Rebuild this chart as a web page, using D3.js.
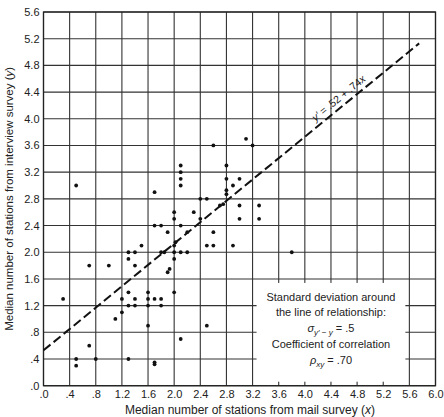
<!DOCTYPE html>
<html lang="en">
<head>
<meta charset="UTF-8">
<title>Mail survey vs interview survey</title>
<script src="https://cdn.jsdelivr.net/npm/d3@7"></script>
<style>
    body { margin: 0; background: #ffffff; }
    svg { display: block; font-family: "Liberation Sans", Arial, sans-serif; }
</style>
</head>
<body>
<div id="chart"></div>
<script>

    const xTicks = [0, 0.4, 0.8, 1.2, 1.6, 2.0, 2.4, 2.8, 3.2, 3.6, 4.0, 4.4, 4.8, 5.2, 5.6, 6.0];
    const xTickLabels = [".0", ".4", ".8", "1.2", "1.6", "2.0", "2.4", "2.8", "3.2", "3.6", "4.0", "4.4", "4.8", "5.2", "5.6", "6.0"];
    const yTicks = [0, 0.4, 0.8, 1.2, 1.6, 2.0, 2.4, 2.8, 3.2, 3.6, 4.0, 4.4, 4.8, 5.2, 5.6];
    const yTickLabels = [".0", ".4", ".8", "1.2", "1.6", "2.0", "2.4", "2.8", "3.2", "3.6", "4.0", "4.4", "4.8", "5.2", "5.6"];

    // median stations, mail survey (x) and interview survey (y)
    const mailSurvey = [
        0.3, 0.5, 0.7, 1.0, 0.7, 0.5, 0.5, 0.8, 1.3, 1.1, 1.2, 1.2, 1.3, 1.4, 1.3, 1.4,
        1.3, 1.3, 1.4, 1.4, 1.5,
        1.6, 1.6, 1.7, 1.8, 1.6, 1.8, 1.6, 1.7, 1.7, 2.1, 2.5, 2.0, 1.9, 1.93, 2.0,
        1.8, 1.85, 2.0, 2.1, 2.2, 2.0, 2.02, 1.9, 2.2, 2.6, 2.5, 2.6, 2.9, 3.8,
        1.7, 1.8, 2.1, 2.0, 2.0, 2.3, 2.4, 2.4, 2.5, 1.7, 2.1, 2.1, 2.1, 2.1, 2.6,
        2.7, 2.75, 2.8, 2.8, 2.9, 2.8, 3.0, 2.8, 3.0, 3.3, 3.0, 3.3, 3.1, 3.2
    ];
    const interviewSurvey = [
        1.3, 3.0, 1.8, 1.8, 0.6, 0.4, 0.3, 0.4, 0.4, 1.0, 1.1, 1.3, 1.2, 1.2, 1.4, 1.3,
        1.9, 2.0, 2.0, 1.8, 2.1,
        1.4, 1.3, 1.3, 1.3, 1.2, 1.2, 0.9, 0.32, 0.35, 0.7, 0.9, 1.4, 1.7, 1.75, 1.9,
        2.0, 2.0, 2.0, 2.0, 2.0, 2.1, 2.15, 2.3, 2.3, 2.3, 2.1, 2.1, 2.1, 2.0,
        2.4, 2.4, 2.4, 2.5, 2.6, 2.6, 2.5, 2.8, 2.8, 2.9, 3.0, 3.1, 3.2, 3.3, 3.6,
        2.7, 2.72, 2.87, 2.93, 3.0, 3.1, 3.1, 3.3, 2.7, 2.7, 2.5, 2.5, 3.7, 3.6
    ];

    // dashed line of relationship, as drawn
    const fitX = [0, 5.75];
    const fitY = [0.53, 5.13];

    const W = 444, H = 417;
    const svg = d3.select("#chart")
        .append("svg")
        .attr("width", W)
        .attr("height", H);

    const x = d3.scaleLinear().domain([0, 6]).range([43.5, 435.5]);
    const y = d3.scaleLinear().domain([0, 5.6]).range([385.7, 12]);

    const ink = "#222";

    // grid
    svg.append("g")
        .selectAll("line.v")
        .data(xTicks)
        .join("line")
        .attr("x1", d => x(d)).attr("x2", d => x(d))
        .attr("y1", y(0)).attr("y2", y(5.6))
        .attr("stroke", "#333").attr("stroke-width", 1.1);
    svg.append("g")
        .selectAll("line.h")
        .data(yTicks)
        .join("line")
        .attr("x1", x(0)).attr("x2", x(6))
        .attr("y1", d => y(d)).attr("y2", d => y(d))
        .attr("stroke", "#333").attr("stroke-width", 1.1);

    // frame
    svg.append("rect")
        .attr("x", x(0)).attr("y", y(5.6))
        .attr("width", x(6) - x(0)).attr("height", y(0) - y(5.6))
        .attr("fill", "none").attr("stroke", ink).attr("stroke-width", 1.3);

    // axes labels
    const xAxis = d3.axisBottom(x).tickValues(xTicks).tickSize(0).tickPadding(5)
        .tickFormat((d, i) => xTickLabels[i]);
    svg.append("g")
        .attr("transform", `translate(0,${y(0)})`)
        .call(xAxis)
        .call(g => g.select(".domain").remove())
        .call(g => g.selectAll("text").attr("fill", ink).style("font-size", "11px")
            .style("font-family", "Liberation Sans, Arial, sans-serif"));

    const yAxis = d3.axisLeft(y).tickValues(yTicks).tickSize(0).tickPadding(4)
        .tickFormat((d, i) => yTickLabels[i]);
    svg.append("g")
        .attr("transform", `translate(${x(0)},0)`)
        .call(yAxis)
        .call(g => g.select(".domain").remove())
        .call(g => g.selectAll("text").attr("fill", ink).style("font-size", "11px")
            .style("font-family", "Liberation Sans, Arial, sans-serif"));

    // annotation box
    const bx0 = x(3.2) + 4, bx1 = x(5.6) - 4, by0 = y(1.6) + 4, by1 = y(0) - 4;
    svg.append("rect")
        .attr("x", bx0).attr("y", by0)
        .attr("width", bx1 - bx0).attr("height", by1 - by0)
        .attr("fill", "#fff");

    const note = svg.append("g")
        .attr("fill", ink)
        .attr("text-anchor", "middle")
        .style("font-size", "11px");
    const cx = (bx0 + bx1) / 2;
    note.append("text").attr("x", cx).attr("y", 301).text("Standard deviation around");
    note.append("text").attr("x", cx).attr("y", 316).text("the line of relationship:");
    const s = note.append("text").attr("x", cx).attr("y", 332);
    s.append("tspan").style("font-style", "italic").text("σ");
    s.append("tspan").attr("dy", 3).style("font-size", "8px").style("font-style", "italic").text("y′ − y");
    s.append("tspan").attr("dy", -3).text(" = .5");
    note.append("text").attr("x", cx).attr("y", 348).text("Coefficient of correlation");
    const r = note.append("text").attr("x", cx).attr("y", 364);
    r.append("tspan").style("font-style", "italic").text("ρ");
    r.append("tspan").attr("dy", 3).style("font-size", "8px").style("font-style", "italic").text("xy");
    r.append("tspan").attr("dy", -3).text(" = .70");

    // line of relationship
    svg.append("line")
        .attr("x1", x(fitX[0])).attr("y1", y(fitY[0]))
        .attr("x2", x(fitX[1])).attr("y2", y(fitY[1]))
        .attr("stroke", "#111").attr("stroke-width", 2)
        .attr("stroke-dasharray", "9,4");

    const ang = Math.atan2(y(fitY[1]) - y(fitY[0]), x(fitX[1]) - x(fitX[0])) * 180 / Math.PI;
    const lx = x(4.6), ly = y(fitY[0] + (fitY[1] - fitY[0]) * (4.6 - fitX[0]) / (fitX[1] - fitX[0]));
    const eq = svg.append("text")
        .attr("transform", `translate(${lx},${ly}) rotate(${ang})`)
        .attr("text-anchor", "middle")
        .attr("y", -5)
        .attr("fill", ink)
        .style("font-size", "10.5px");
    eq.append("tspan").style("font-style", "italic").text("y′");
    eq.append("tspan").text(" = .52 + .74");
    eq.append("tspan").style("font-style", "italic").text("x");

    // points
    svg.append("g")
        .selectAll("circle")
        .data(mailSurvey)
        .join("circle")
        .attr("cx", d => x(d))
        .attr("cy", (d, i) => y(interviewSurvey[i]))
        .attr("r", 1.9)
        .attr("fill", "#111");

    // axis titles
    const xt = svg.append("text")
        .attr("x", 250).attr("y", 414)
        .attr("text-anchor", "middle")
        .attr("fill", ink)
        .style("font-size", "12px");
    xt.append("tspan").text("Median number of stations from mail survey (");
    xt.append("tspan").style("font-style", "italic").text("x");
    xt.append("tspan").text(")");

    const yt = svg.append("text")
        .attr("transform", `translate(13,${(y(0) + y(5.6)) / 2}) rotate(-90)`)
        .attr("text-anchor", "middle")
        .attr("fill", ink)
        .style("font-size", "11.5px");
    yt.append("tspan").text("Median number of stations from interview survey (");
    yt.append("tspan").style("font-style", "italic").text("y");
    yt.append("tspan").text(")");

</script>
</body>
</html>
